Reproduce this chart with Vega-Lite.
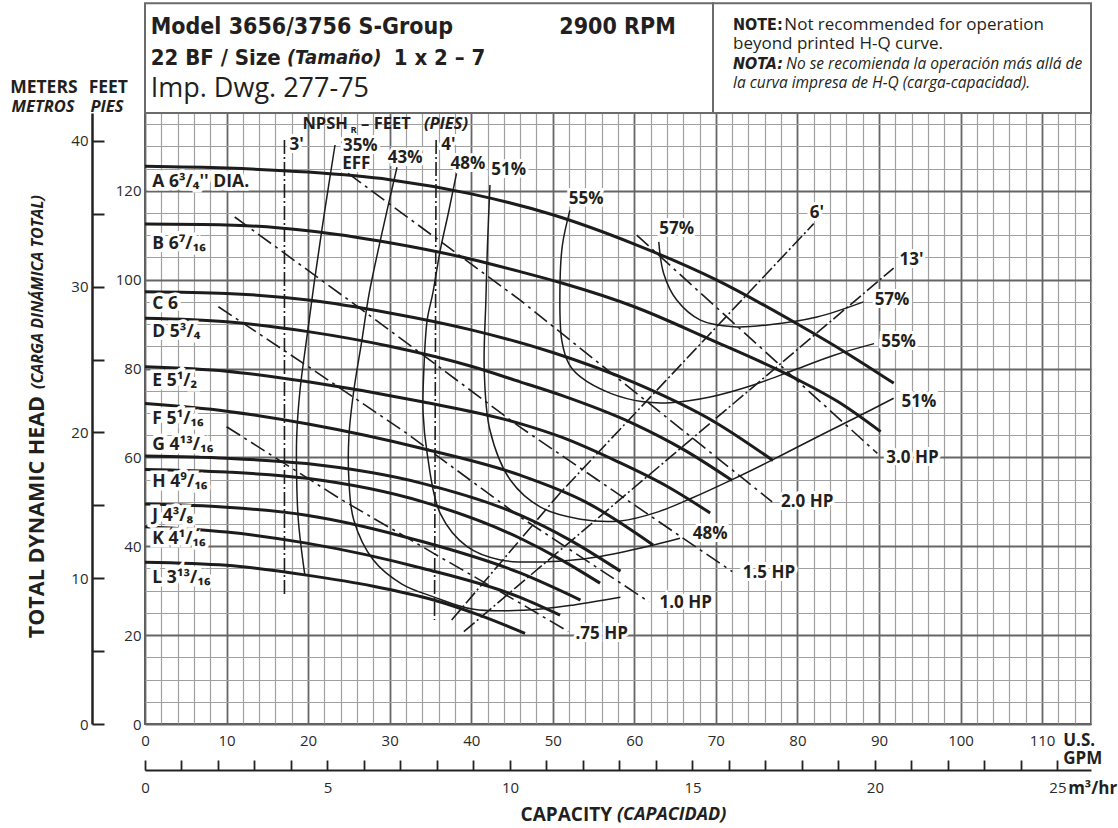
{
"$schema": "https://vega.github.io/schema/vega-lite/v6.json",
"width": 946, "height": 611,
"autosize": {"type": "none"},
"padding": {"left": 145, "top": 113, "right": 27, "bottom": 104},
"background": "white",
"config": {
  "view": {"stroke": "#5a5a5a", "strokeWidth": 2},
  "axis": {"labelFont": "Open Sans", "labelFontSize": 15, "labelColor": "#2a2a2a"},
  "text": {"font": "Open Sans", "color": "#231f20"}
},
"datasets": {
"heads": [
{"c":"A","q":0,"h":125.5},{"c":"A","q":10,"h":125.1},{"c":"A","q":20,"h":124.2},{"c":"A","q":30,"h":122.5},{"c":"A","q":40,"h":119.3},{"c":"A","q":50,"h":114.6},{"c":"A","q":60,"h":108},{"c":"A","q":70,"h":100},{"c":"A","q":80,"h":90},{"c":"A","q":86,"h":83.5},{"c":"A","q":91.8,"h":76.7},
{"c":"B","q":0,"h":112.5},{"c":"B","q":10,"h":112.3},{"c":"B","q":20,"h":111},{"c":"B","q":30,"h":108.3},{"c":"B","q":40,"h":104.6},{"c":"B","q":46,"h":101.8},{"c":"B","q":51,"h":99.3},{"c":"B","q":60,"h":93.9},{"c":"B","q":69,"h":86.8},{"c":"B","q":79.5,"h":78},{"c":"B","q":85,"h":72.5},{"c":"B","q":90.2,"h":65.8},
{"c":"C","q":0,"h":97.3},{"c":"C","q":10,"h":96.9},{"c":"C","q":20,"h":95.4},{"c":"C","q":30,"h":92.5},{"c":"C","q":40,"h":88.7},{"c":"C","q":50,"h":83.6},{"c":"C","q":60,"h":76.8},{"c":"C","q":70,"h":67.8},{"c":"C","q":77,"h":59.3},
{"c":"D","q":0,"h":91.3},{"c":"D","q":10,"h":90.5},{"c":"D","q":20,"h":88.3},{"c":"D","q":30,"h":85},{"c":"D","q":40,"h":80.5},{"c":"D","q":46,"h":77},{"c":"D","q":51,"h":74},{"c":"D","q":60,"h":67.5},{"c":"D","q":66,"h":61.8},{"c":"D","q":72,"h":54.8},
{"c":"E","q":0,"h":80.4},{"c":"E","q":10,"h":79.4},{"c":"E","q":20,"h":77},{"c":"E","q":34,"h":72.5},{"c":"E","q":46,"h":67.6},{"c":"E","q":51,"h":64.6},{"c":"E","q":58,"h":59},{"c":"E","q":64,"h":53.5},{"c":"E","q":69.3,"h":47.5},
{"c":"F","q":0,"h":72.1},{"c":"F","q":10,"h":70.4},{"c":"F","q":20,"h":67.5},{"c":"F","q":34,"h":62},{"c":"F","q":46,"h":56},{"c":"F","q":54,"h":50},{"c":"F","q":62.3,"h":40.3},
{"c":"G","q":0,"h":60.3},{"c":"G","q":10,"h":59.8},{"c":"G","q":19.8,"h":58.6},{"c":"G","q":34.1,"h":54.1},{"c":"G","q":46,"h":47},{"c":"G","q":52,"h":41.5},{"c":"G","q":58.3,"h":34.4},
{"c":"H","q":0,"h":57.3},{"c":"H","q":10,"h":56.7},{"c":"H","q":19.8,"h":55.3},{"c":"H","q":34.1,"h":50},{"c":"H","q":46,"h":41.8},{"c":"H","q":51,"h":37},{"c":"H","q":55.8,"h":31.7},
{"c":"J","q":0,"h":49.5},{"c":"J","q":10,"h":48.8},{"c":"J","q":19.8,"h":47},{"c":"J","q":34.1,"h":41},{"c":"J","q":46,"h":34},{"c":"J","q":53.4,"h":27.9},
{"c":"K","q":0,"h":44.4},{"c":"K","q":10,"h":43.2},{"c":"K","q":19.8,"h":40.7},{"c":"K","q":34.1,"h":35},{"c":"K","q":46,"h":28.5},{"c":"K","q":50.9,"h":24.5},
{"c":"L","q":0,"h":36.4},{"c":"L","q":10,"h":35.7},{"c":"L","q":19.8,"h":33.5},{"c":"L","q":28,"h":31},{"c":"L","q":35.4,"h":27.9},{"c":"L","q":41,"h":24.5},{"c":"L","q":46.6,"h":20.4}
],
"eff": [
{"c":"35","i":1,"q":23.3,"h":130.3},{"c":"35","i":2,"q":22,"h":115},{"c":"35","i":3,"q":20.8,"h":100},{"c":"35","i":4,"q":19.8,"h":86.4},{"c":"35","i":5,"q":19,"h":75},{"c":"35","i":6,"q":18.6,"h":64.6},{"c":"35","i":7,"q":18.6,"h":55},{"c":"35","i":8,"q":18.8,"h":45.9},{"c":"35","i":9,"q":19.6,"h":33.5},
{"c":"43","i":1,"q":30.9,"h":125.3},{"c":"43","i":2,"q":29,"h":110},{"c":"43","i":3,"q":27.5,"h":97},{"c":"43","i":4,"q":26.6,"h":86.4},{"c":"43","i":5,"q":25.6,"h":75},{"c":"43","i":6,"q":25,"h":64.6},{"c":"43","i":7,"q":25,"h":55},{"c":"43","i":8,"q":25.6,"h":45.9},{"c":"43","i":9,"q":28,"h":36.9},{"c":"43","i":10,"q":31.5,"h":31.5},{"c":"43","i":11,"q":35.4,"h":28.6},{"c":"43","i":12,"q":40.3,"h":25.8},{"c":"43","i":13,"q":46.4,"h":25.6},{"c":"43","i":14,"q":52.6,"h":26.8},{"c":"43","i":15,"q":58.3,"h":28.5},
{"c":"48","i":1,"q":38.2,"h":123.9},{"c":"48","i":2,"q":37.2,"h":115},{"c":"48","i":3,"q":36.2,"h":106.6},{"c":"48","i":4,"q":35.3,"h":97},{"c":"48","i":5,"q":34.6,"h":90.9},{"c":"48","i":6,"q":34.2,"h":80},{"c":"48","i":7,"q":34.1,"h":70},{"c":"48","i":8,"q":34.6,"h":60.9},{"c":"48","i":9,"q":36.2,"h":47.4},{"c":"48","i":10,"q":39.5,"h":39.9},{"c":"48","i":11,"q":43.6,"h":36.9},{"c":"48","i":12,"q":49.3,"h":36.5},{"c":"48","i":13,"q":55.4,"h":37.6},{"c":"48","i":14,"q":62.4,"h":40.3},{"c":"48","i":15,"q":65.6,"h":41.8},
{"c":"51","i":1,"q":42.3,"h":121.3},{"c":"51","i":2,"q":42,"h":108},{"c":"51","i":3,"q":41.8,"h":95.4},{"c":"51","i":4,"q":41.6,"h":79.6},{"c":"51","i":5,"q":42.3,"h":66.1},{"c":"51","i":6,"q":44.8,"h":54.9},{"c":"51","i":7,"q":48.5,"h":48.8},{"c":"51","i":8,"q":53.4,"h":46.1},{"c":"51","i":9,"q":58.3,"h":45.7},{"c":"51","i":10,"q":63,"h":47.8},{"c":"51","i":11,"q":67,"h":50.8},{"c":"51","i":12,"q":72,"h":55},{"c":"51","i":13,"q":77,"h":59.5},{"c":"51","i":14,"q":82,"h":64.2},{"c":"51","i":15,"q":87,"h":68.8},{"c":"51","i":16,"q":91.8,"h":73.3},
{"c":"55","i":1,"q":52.1,"h":115.6},{"c":"55","i":2,"q":51.2,"h":108},{"c":"55","i":3,"q":50.9,"h":99.9},{"c":"55","i":4,"q":51.1,"h":86.4},{"c":"55","i":5,"q":52,"h":81},{"c":"55","i":6,"q":53.4,"h":78.1},{"c":"55","i":7,"q":57.1,"h":74.4},{"c":"55","i":8,"q":61.1,"h":72.5},{"c":"55","i":9,"q":64.4,"h":72.3},{"c":"55","i":10,"q":69.3,"h":73.6},{"c":"55","i":11,"q":74.6,"h":76.3},{"c":"55","i":12,"q":79.5,"h":79.6},{"c":"55","i":13,"q":84.5,"h":83},{"c":"55","i":14,"q":89.4,"h":85.6},
{"c":"57","i":1,"q":63,"h":108.5},{"c":"57","i":2,"q":63.6,"h":101.4},{"c":"57","i":3,"q":65.2,"h":95.4},{"c":"57","i":4,"q":68.1,"h":90.9},{"c":"57","i":5,"q":72.2,"h":89.4},{"c":"57","i":6,"q":76.3,"h":89.8},{"c":"57","i":7,"q":82.4,"h":91.6},{"c":"57","i":8,"q":88.1,"h":95}
],
"npsh": [
{"c":"3","i":1,"q":17.1,"h":131.4},{"c":"3","i":2,"q":17.1,"h":28.8},
{"c":"4","i":1,"q":35.7,"h":131.4},{"c":"4","i":2,"q":35.5,"h":23.4},
{"c":"6","i":1,"q":37.6,"h":23.4},{"c":"6","i":2,"q":50.9,"h":52},{"c":"6","i":3,"q":82,"h":112.6},
{"c":"13","i":1,"q":39.1,"h":20.8},{"c":"13","i":2,"q":91.8,"h":102.6}
],
"hp": [
{"c":"3.0","i":1,"q":60.3,"h":110},{"c":"3.0","i":2,"q":89.8,"h":60.9},
{"c":"2.0","i":1,"q":24.9,"h":123.9},{"c":"2.0","i":2,"q":46,"h":95.4},{"c":"2.0","i":3,"q":76.9,"h":50},
{"c":"1.5","i":1,"q":11,"h":114.1},{"c":"1.5","i":2,"q":26.4,"h":93.5},{"c":"1.5","i":3,"q":46,"h":66.8},{"c":"1.5","i":4,"q":72,"h":34.3},
{"c":"1.0","i":1,"q":9,"h":93.9},{"c":"1.0","i":2,"q":20.7,"h":79.6},{"c":"1.0","i":3,"q":32.1,"h":65.4},{"c":"1.0","i":4,"q":46,"h":46.6},{"c":"1.0","i":5,"q":61.8,"h":27.5},
{"c":".75","i":1,"q":10,"h":66.9},{"c":".75","i":2,"q":23.9,"h":50.7},{"c":".75","i":3,"q":35.4,"h":38.4},{"c":".75","i":4,"q":46,"h":27.2},{"c":".75","i":5,"q":51.9,"h":20.8}
],
"labs": [
{"t":"3'","q":18.6,"h":130.3},{"t":"35%","q":26.4,"h":130.1},{"t":"EFF","q":25.9,"h":126.0},{"t":"43%","q":31.9,"h":127.3},{"t":"4'","q":37.2,"h":130.3},{"t":"48%","q":39.6,"h":126.1},{"t":"51%","q":44.6,"h":124.6},{"t":"55%","q":54.1,"h":118.1},{"t":"57%","q":65.2,"h":111.5},{"t":"6'","q":82.4,"h":114.9},{"t":"13'","q":94,"h":104.4},{"t":"57%","q":91.6,"h":95.4},{"t":"55%","q":92.4,"h":86},{"t":"51%","q":94.9,"h":72.5},{"t":"3.0 HP","q":94.1,"h":59.9},{"t":"2.0 HP","q":81.2,"h":50},{"t":"48%","q":69.3,"h":42.7},{"t":"1.5 HP","q":76.5,"h":34},{"t":"1.0 HP","q":66.3,"h":27.3},{"t":".75 HP","q":56,"h":20.2}
],
"imps": [
{"t":"A 6³/₄'' DIA.","q":0.9,"h":122},{"t":"B 6⁷/₁₆","q":0.9,"h":108},{"t":"C 6","q":0.9,"h":94.6},{"t":"D 5³/₄","q":0.9,"h":88.3},{"t":"E 5¹/₂","q":0.9,"h":77.2},{"t":"F 5¹/₁₆","q":0.9,"h":68.6},{"t":"G 4¹³/₁₆","q":0.9,"h":62.8},{"t":"H 4⁹/₁₆","q":0.9,"h":54.4},{"t":"J 4³/₈","q":0.9,"h":46.8},{"t":"K 4¹/₁₆","q":0.9,"h":41.6},{"t":"L 3¹³/₁₆","q":0.9,"h":32.9}
]
},
"resolve": {"scale": {"x": "independent", "y": "independent"}, "axis": {"x": "independent", "y": "independent"}},
"layer": [
{
"encoding": {
  "x": {"field": "q", "type": "quantitative", "scale": {"domain": [0, 116], "nice": false, "zero": false},
    "axis": {"title": null, "orient": "bottom", "values": [0,2,4,6,8,10,12,14,16,18,20,22,24,26,28,30,32,34,36,38,40,42,44,46,48,50,52,54,56,58,60,62,64,66,68,70,72,74,76,78,80,82,84,86,88,90,92,94,96,98,100,102,104,106,108,110,112,114,116],
      "labelExpr": "datum.value % 10 === 0 ? datum.label : ''", "grid": true,
      "gridColor": {"condition": {"test": "datum.value % 10 === 0", "value": "#666666"}, "value": "#a0a0a0"},
      "gridWidth": {"condition": {"test": "datum.value % 10 === 0", "value": 1.8}, "value": 1.2},
      "ticks": false, "tickSize": 0, "domain": false, "labelPadding": 9, "labelFlush": false, "labelOverlap": false}},
  "y": {"field": "h", "type": "quantitative", "scale": {"domain": [0, 137.5], "nice": false, "zero": false},
    "axis": {"title": null, "orient": "left", "values": [0,5,10,15,20,25,30,35,40,45,50,55,60,65,70,75,80,85,90,95,100,105,110,115,120,125,130,135],
      "labelExpr": "datum.value % 20 === 0 ? datum.label : ''", "grid": true,
      "gridColor": {"condition": {"test": "datum.value % 20 === 0", "value": "#666666"}, "value": "#a0a0a0"},
      "gridWidth": {"condition": {"test": "datum.value % 20 === 0", "value": 1.8}, "value": 1.2},
      "ticks": false, "tickSize": 0, "domain": false, "labelPadding": 4, "labelFlush": false, "labelOverlap": false}}
},
"layer": [
  {"data": {"name": "heads"}, "mark": {"type": "line", "strokeWidth": 3, "color": "#1c1c1c", "interpolate": "monotone"}, "encoding": {"detail": {"field": "c"}}},
  {"data": {"name": "eff"}, "mark": {"type": "line", "strokeWidth": 1.5, "color": "#1c1c1c", "interpolate": "catmull-rom"}, "encoding": {"detail": {"field": "c"}, "order": {"field": "i", "type": "quantitative"}}},
  {"data": {"name": "npsh"}, "mark": {"type": "line", "strokeWidth": 1.6, "color": "#1c1c1c", "strokeDash": [14, 3, 2, 3]}, "encoding": {"detail": {"field": "c"}, "order": {"field": "i", "type": "quantitative"}}},
  {"data": {"name": "hp"}, "mark": {"type": "line", "strokeWidth": 1.6, "color": "#1c1c1c", "strokeDash": [16, 5, 3, 5]}, "encoding": {"detail": {"field": "c"}, "order": {"field": "i", "type": "quantitative"}}},
  {"data": {"values": [{"q": 0, "q2": 69.65, "h": 137.5, "h2": 162.2}, {"q": 69.65, "q2": 116, "h": 137.5, "h2": 162.2}]},
   "mark": {"type": "rect", "fill": "white", "stroke": "#6b6b6b", "strokeWidth": 2}, "encoding": {"x2": {"field": "q2"}, "y2": {"field": "h2"}}},
  {"data": {"name": "labs"}, "mark": {"type": "text", "align": "center", "baseline": "middle", "fontWeight": "bold", "fontSize": 17, "color": "white", "stroke": "white", "strokeWidth": 6}, "encoding": {"text": {"field": "t"}}},
  {"data": {"name": "labs"}, "mark": {"type": "text", "align": "center", "baseline": "middle", "fontWeight": "bold", "fontSize": 17, "color": "#231f20"}, "encoding": {"text": {"field": "t"}}},
  {"data": {"name": "imps"}, "mark": {"type": "text", "align": "left", "baseline": "middle", "fontWeight": "bold", "fontSize": 17.5, "color": "white", "stroke": "white", "strokeWidth": 7}, "encoding": {"text": {"field": "t"}}},
  {"data": {"name": "imps"}, "mark": {"type": "text", "align": "left", "baseline": "middle", "fontWeight": "bold", "fontSize": 17.5, "color": "#231f20"}, "encoding": {"text": {"field": "t"}}},
  {"data": {"values": [{"t": "NPSH", "q": 19.3, "h": 135.0}, {"t": "– FEET", "q": 26.5, "h": 135.0}]},
   "mark": {"type": "text", "align": "left", "baseline": "middle", "fontWeight": "bold", "fontSize": 16.5}, "encoding": {"text": {"field": "t"}}},
  {"data": {"values": [{"t": "R", "q": 25.2, "h": 133.6}]},
   "mark": {"type": "text", "align": "left", "baseline": "middle", "fontWeight": "bold", "fontSize": 9.5}, "encoding": {"text": {"field": "t"}}},
  {"data": {"values": [{"t": "(PIES)", "q": 34.2, "h": 135.0}]},
   "mark": {"type": "text", "align": "left", "baseline": "middle", "fontWeight": "bold", "fontStyle": "italic", "fontSize": 16.5}, "encoding": {"text": {"field": "t"}}},
  {"data": {"values": [{"t": "Model 3656/3756 S-Group", "q": 0.7, "h": 156.9}, {"t": "2900 RPM", "q": 50.8, "h": 156.9}]},
   "mark": {"type": "text", "align": "left", "baseline": "middle", "font": "'Liberation Sans Narrow', 'DejaVu Sans Condensed', sans-serif", "fontWeight": "bold", "fontSize": 23}, "encoding": {"text": {"field": "t"}}},
  {"data": {"values": [{"t": "22 BF / Size", "q": 0.7, "h": 149.9}, {"t": "1 x 2 – 7", "q": 30.5, "h": 149.9}]},
   "mark": {"type": "text", "align": "left", "baseline": "middle", "font": "'Liberation Sans Narrow', 'DejaVu Sans Condensed', sans-serif", "fontWeight": "bold", "fontSize": 22}, "encoding": {"text": {"field": "t"}}},
  {"data": {"values": [{"t": "(Tamaño)", "q": 17.4, "h": 149.9}]},
   "mark": {"type": "text", "align": "left", "baseline": "middle", "font": "'Liberation Sans Narrow', 'DejaVu Sans Condensed', sans-serif", "fontWeight": "bold", "fontStyle": "italic", "fontSize": 20}, "encoding": {"text": {"field": "t"}}},
  {"data": {"values": [{"t": "Imp. Dwg. 277-75", "q": 0.7, "h": 142.9}]},
   "mark": {"type": "text", "align": "left", "baseline": "middle", "fontSize": 27}, "encoding": {"text": {"field": "t"}}},
  {"data": {"values": [{"t": "NOTE:", "q": 72.1, "h": 157.3}]},
   "mark": {"type": "text", "align": "left", "baseline": "middle", "font": "'Liberation Sans Narrow', 'DejaVu Sans Condensed', sans-serif", "fontWeight": "bold", "fontSize": 16}, "encoding": {"text": {"field": "t"}}},
  {"data": {"values": [{"t": "NOTA:", "q": 72.1, "h": 148.5}]},
   "mark": {"type": "text", "align": "left", "baseline": "middle", "font": "'Liberation Sans Narrow', 'DejaVu Sans Condensed', sans-serif", "fontWeight": "bold", "fontStyle": "italic", "fontSize": 16}, "encoding": {"text": {"field": "t"}}},
  {"data": {"values": [{"t": "Not recommended for operation", "q": 78.4, "h": 157.3}, {"t": "beyond printed H-Q curve.", "q": 72.1, "h": 153.0}]},
   "mark": {"type": "text", "align": "left", "baseline": "middle", "fontSize": 17}, "encoding": {"text": {"field": "t"}}},
  {"data": {"values": [{"t": "No se recomienda la operación más allá de", "q": 78.6, "h": 148.5}, {"t": "la curva impresa de H-Q (carga-capacidad).", "q": 72.1, "h": 144.35}]},
   "mark": {"type": "text", "align": "left", "baseline": "middle", "fontStyle": "italic", "fontSize": 15.5}, "encoding": {"text": {"field": "t"}}},
  {"data": {"values": [{"t": "METERS", "q": -12.4, "h": 143.1}, {"t": "FEET", "q": -4.5, "h": 143.1}]},
   "mark": {"type": "text", "align": "center", "baseline": "middle", "fontWeight": "bold", "fontSize": 17.5}, "encoding": {"text": {"field": "t"}}},
  {"data": {"values": [{"t": "U.S.", "q": 112.6, "h": -3.8}, {"t": "GPM", "q": 112.6, "h": -7.9}, {"t": "m³/hr", "q": 113.2, "h": -14.6}]},
   "mark": {"type": "text", "align": "left", "baseline": "middle", "fontWeight": "bold", "fontSize": 17}, "encoding": {"text": {"field": "t"}}},
  {"data": {"values": [{"t": "METROS", "q": -12.5, "h": 138.9}, {"t": "PIES", "q": -4.66, "h": 138.9}]},
   "mark": {"type": "text", "align": "center", "baseline": "middle", "fontWeight": "bold", "fontStyle": "italic", "fontSize": 16.5}, "encoding": {"text": {"field": "t"}}},
  {"data": {"values": [{"t": "TOTAL DYNAMIC HEAD", "q": -13.1, "h": 73.8}]},
   "mark": {"type": "text", "align": "right", "baseline": "middle", "angle": 270, "fontWeight": "bold", "fontSize": 21.5}, "encoding": {"text": {"field": "t"}}},
  {"data": {"values": [{"t": "(CARGA DINÁMICA TOTAL)", "q": -13.1, "h": 75.4}]},
   "mark": {"type": "text", "align": "left", "baseline": "middle", "angle": 270, "fontWeight": "bold", "fontStyle": "italic", "fontSize": 16}, "encoding": {"text": {"field": "t"}}},
  {"data": {"values": [{"t": "CAPACITY", "q": 57.27, "h": -20.5}]},
   "mark": {"type": "text", "align": "right", "baseline": "middle", "fontWeight": "bold", "fontSize": 19}, "encoding": {"text": {"field": "t"}}},
  {"data": {"values": [{"t": "(CAPACIDAD)", "q": 57.88, "h": -20.5}]},
   "mark": {"type": "text", "align": "left", "baseline": "middle", "fontWeight": "bold", "fontStyle": "italic", "fontSize": 18}, "encoding": {"text": {"field": "t"}}}
]
},
{
"data": {"values": [{"m3": 0, "m": 0}]},
"mark": {"type": "point", "opacity": 0},
"encoding": {
  "x": {"field": "m3", "type": "quantitative", "scale": {"domain": [0, 25.92], "nice": false, "zero": false},
    "axis": {"title": null, "orient": "bottom", "offset": 46, "values": [0,1,2,3,4,5,6,7,8,9,10,11,12,13,14,15,16,17,18,19,20,21,22,23,24,25],
      "labelExpr": "datum.value % 5 === 0 ? datum.label : ''", "tickSize": -10, "tickWidth": 1.8, "tickColor": "#222", "domainColor": "#222", "domainWidth": 2,
      "labelPadding": 20, "grid": false, "labelFlush": false, "labelOverlap": false}},
  "y": {"field": "m", "type": "quantitative", "scale": {"domain": [0, 41.91], "nice": false, "zero": false},
    "axis": {"title": null, "orient": "left", "offset": 53, "values": [0,5,10,15,20,25,30,35,40],
      "labelExpr": "datum.value % 10 === 0 ? datum.label : ''", "tickSize": -12, "tickWidth": 2, "tickColor": "#222", "domainColor": "#222", "domainWidth": 2.5,
      "labelPadding": 16, "grid": false, "labelFlush": false, "labelOverlap": false}}
}
}
]
}
